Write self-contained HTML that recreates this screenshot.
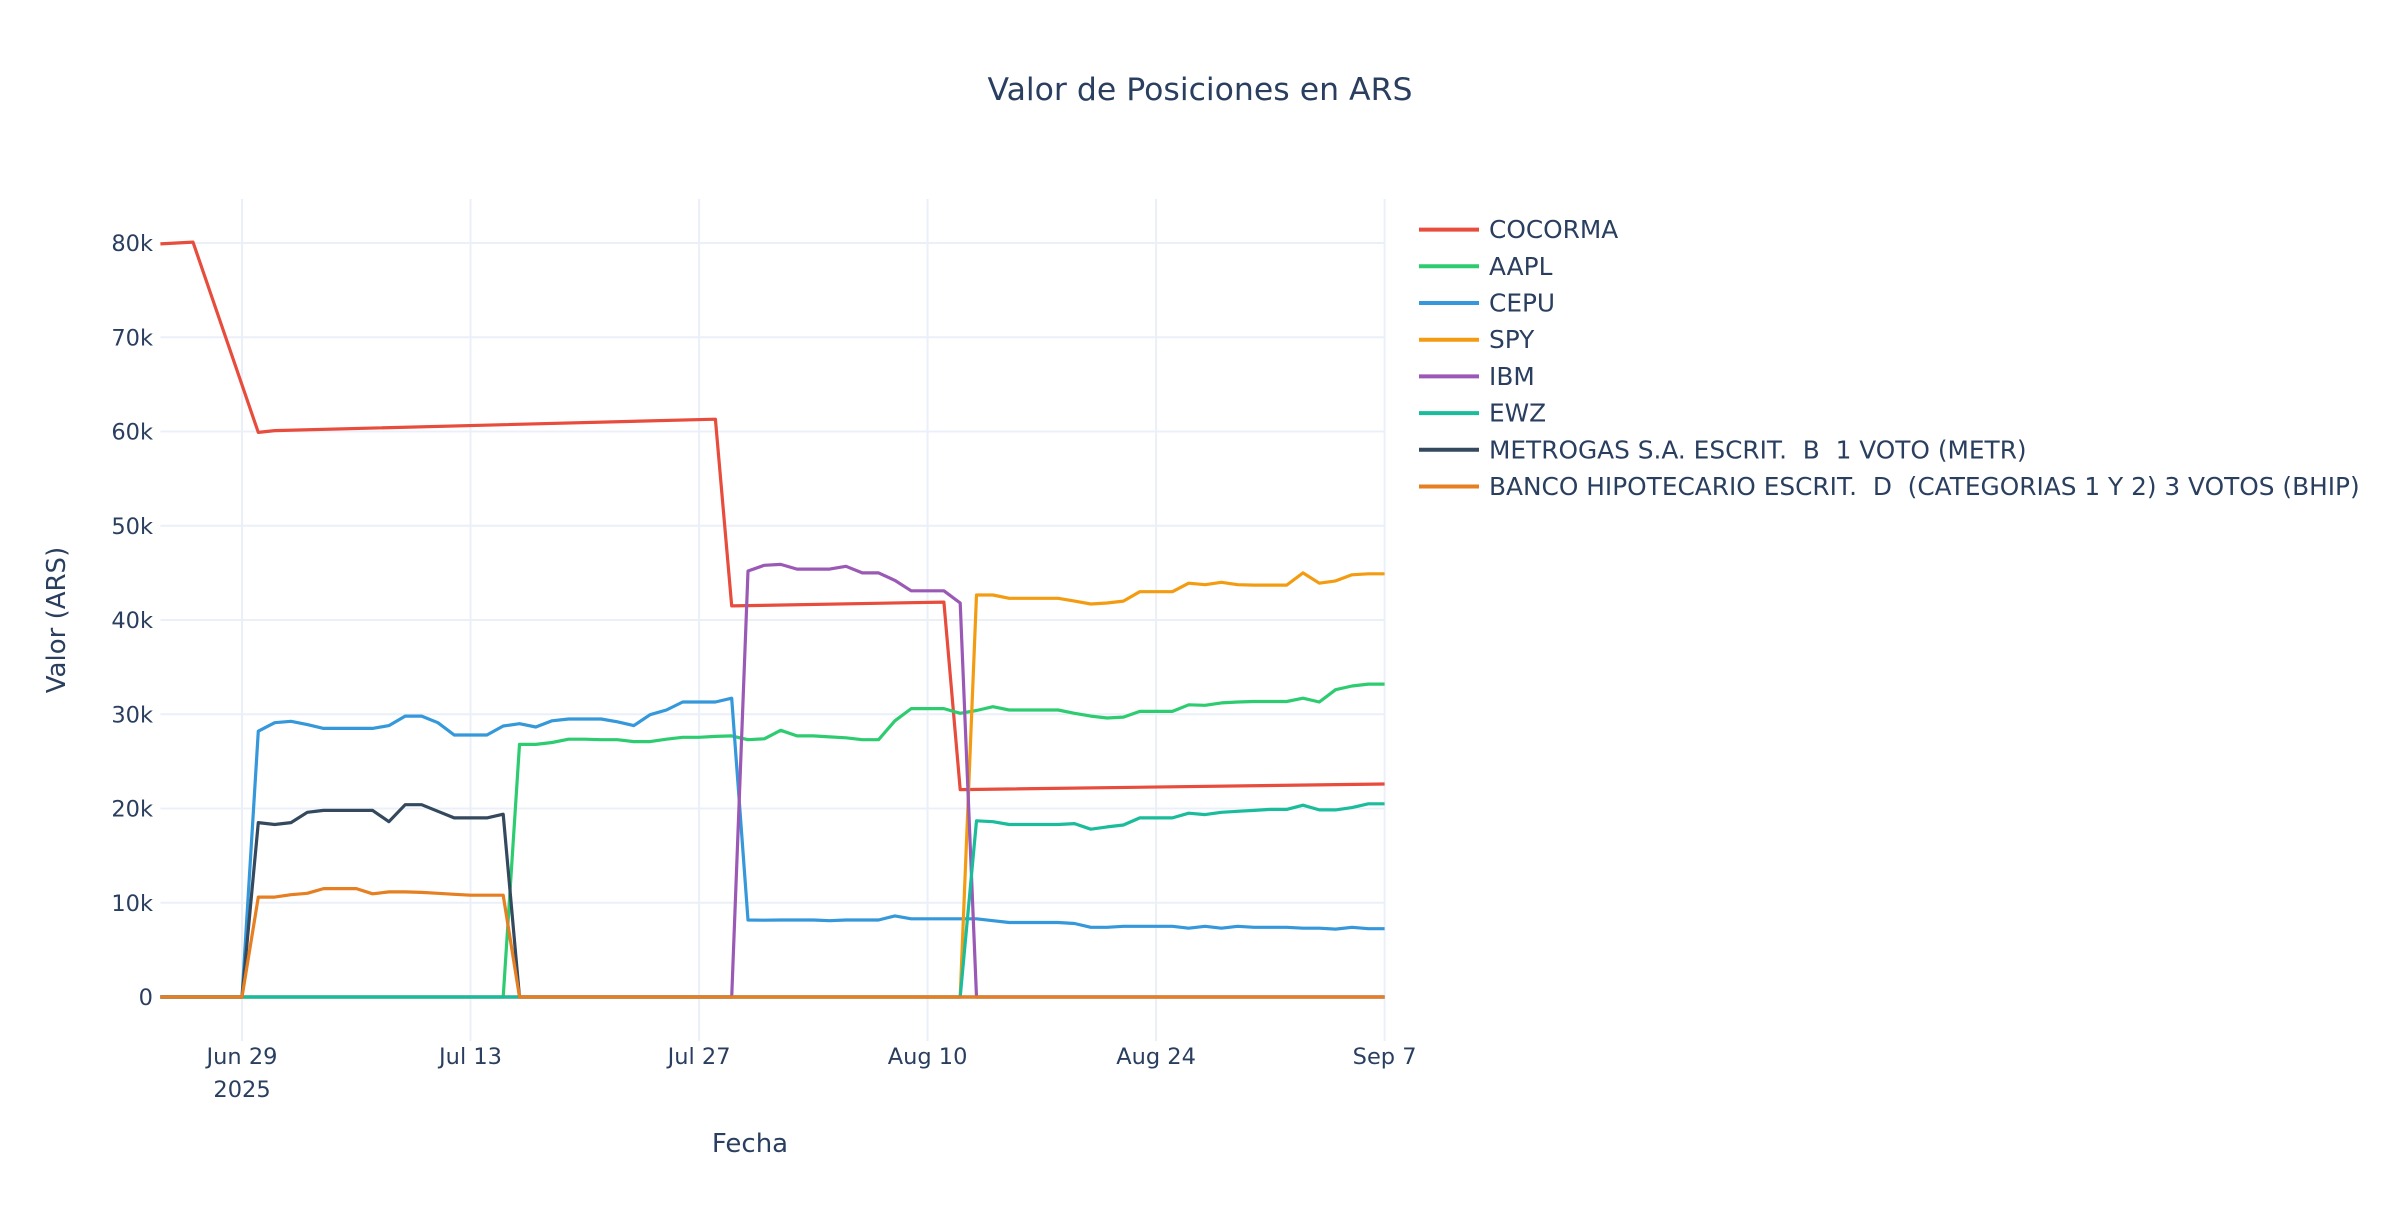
<!DOCTYPE html>
<html><head><meta charset="utf-8"><style>
body{margin:0;background:#fff;}
svg text{font-family:"DejaVu Sans","Liberation Sans",sans-serif;fill:#2a3f5f;white-space:pre;}
</style></head><body>
<svg id="chart" width="2400" height="1200" viewBox="0 0 2400 1200" xmlns="http://www.w3.org/2000/svg" xml:space="preserve">
<rect width="2400" height="1200" fill="#fff"/>
<text x="1200" y="100" font-size="31.5" text-anchor="middle">Valor de Posiciones en ARS</text>
<g id="grid"></g><g id="series"></g><g id="axes"></g><g id="legend"></g>
<text x="0" y="0" font-size="26" text-anchor="middle" transform="translate(65,620) rotate(-90)">Valor (ARS)</text>
<text x="750" y="1152" font-size="26" text-anchor="middle">Fecha</text>
</svg>
<script>
const startDate = "2025-06-24";
const numDays = 76;
const yTicks = [0,10000,20000,30000,40000,50000,60000,70000,80000];
const yTickLabels = ["0","10k","20k","30k","40k","50k","60k","70k","80k"];
const xTickDays = [5,19,33,47,61,75];
const xTickLabels = ["Jun 29","Jul 13","Jul 27","Aug 10","Aug 24","Sep 7"];
const seriesNames = ["COCORMA","AAPL","CEPU","SPY","IBM","EWZ","METROGAS S.A. ESCRIT.  B  1 VOTO (METR)","BANCO HIPOTECARIO ESCRIT.  D  (CATEGORIAS 1 Y 2) 3 VOTOS (BHIP)"];
const seriesColors = ["#e74c3c","#2ecc71","#3498db","#f39c12","#9b59b6","#1abc9c","#34495e","#e67e22"];
const cocormaDays = [0,2,6,7,34,35,48,49,75];
const cocormaValues = [79900,80100,59900,60100,61300,41500,41900,22000,22600];
const aaplValues = [0,0,0,0,0,0,0,0,0,0,0,0,0,0,0,0,0,0,0,0,0,0,
26800,26800,27000,27350,27350,27300,27300,27100,27100,27350,27550,27550,27650,27700,
27300,27400,28300,27700,27700,27600,27500,27300,27300,
29300,30600,30600,30600,30100,30400,
30800,30450,30450,30450,30450,
30100,29800,29600,29700,30300,30300,30300,
31000,30950,31200,31300,31350,31350,31350,
31700,31300,32600,33000,33200,33200];
const cepuValues = [0,0,0,0,0,0,
28200,29100,29250,28900,28500,28500,28500,28500,28800,29800,29800,29100,27800,27800,27800,28750,29000,28650,29300,29500,29500,29500,29200,28800,29950,30450,31300,31300,31300,31700,
8170,8150,8170,8170,8170,8100,8170,8170,8170,
8600,8300,8300,8300,8300,8300,8100,7900,7900,7900,7900,7800,7400,7400,7500,7500,7500,7500,7300,7500,7300,7500,7400,7400,7400,7300,7300,7200,7400,7250,7250];
const spyValues = [0,0,0,0,0,0,0,0,0,0,0,0,0,0,0,0,0,0,0,0,0,0,0,0,0,0,0,0,0,0,0,0,0,0,0,0,0,0,0,0,0,0,0,0,0,0,0,0,0,0,
42650,42650,42300,42300,42300,42300,42000,41700,41800,42000,43000,43000,43000,43900,43750,44000,43750,43700,43700,43700,45000,43900,44150,44800,44900,44900];
const ibmValues = [0,0,0,0,0,0,0,0,0,0,0,0,0,0,0,0,0,0,0,0,0,0,0,0,0,0,0,0,0,0,0,0,0,0,0,0,
45200,45800,45900,45400,45400,45400,45700,45000,45000,44200,43100,43100,43100,41800,
0,0,0,0,0,0,0,0,0,0,0,0,0,0,0,0,0,0,0,0,0,0,0,0,0,0];
const ewzValues = [0,0,0,0,0,0,0,0,0,0,0,0,0,0,0,0,0,0,0,0,0,0,0,0,0,0,0,0,0,0,0,0,0,0,0,0,0,0,0,0,0,0,0,0,0,0,0,0,0,0,
18700,18600,18300,18300,18300,18300,18400,17800,18050,18250,19000,19000,19000,19500,19350,19600,19700,19800,19900,19900,20350,19850,19850,20100,20500,20500];
const metrValues = [0,0,0,0,0,0,
18500,18300,18500,19600,19800,19800,19800,19800,18600,20400,20400,19700,19000,19000,19000,19400,
0,0,0,0,0,0,0,0,0,0,0,0,0,0,0,0,0,0,0,0,0,0,0,0,0,0,0,0,0,0,0,0,0,0,0,0,0,0,0,0,0,0,0,0,0,0,0,0,0,0,0,0,0,0];
const bhipValues = [0,0,0,0,0,0,
10600,10600,10850,11000,11500,11500,11500,10950,11150,11150,11100,11000,10900,10800,10800,10800,
0,0,0,0,0,0,0,0,0,0,0,0,0,0,0,0,0,0,0,0,0,0,0,0,0,0,0,0,0,0,0,0,0,0,0,0,0,0,0,0,0,0,0,0,0,0,0,0,0,0,0,0,0,0];

const NS = "http://www.w3.org/2000/svg";
const PL = 160.4, PR = 1384.6, PT = 199, PB = 1041;
function xScale(d){ return PL + d * (PR - PL) / (numDays - 1); }
function yScale(v){ return 997 - v / 10000 * 94.25; }
function mk(tag, attrs, parent){ const e = document.createElementNS(NS, tag); for (const k in attrs) e.setAttribute(k, attrs[k]); parent.appendChild(e); return e; }

const grid = document.getElementById("grid"), axes = document.getElementById("axes");
yTicks.forEach((v, i) => {
  const y = yScale(v);
  const gl = mk("line", {x1: PL, x2: PR, y1: y, y2: y, stroke: "#ebf0f8", "stroke-width": 2}, grid);
  
  
  const t = mk("text", {x: 153, y: y + 8, "font-size": 22.5, "text-anchor": "end"}, axes);
  t.textContent = yTickLabels[i];
  
  
});
xTickDays.forEach((d, i) => {
  const x = xScale(d);
  const gl = mk("line", {x1: x, x2: x, y1: PT, y2: PB, stroke: "#ebf0f8", "stroke-width": 2}, grid);
  
  
  const t = mk("text", {x: x, y: 1064, "font-size": 22.5, "text-anchor": "middle"}, axes);
  t.textContent = xTickLabels[i];
  
  
});
const yr = mk("text", {x: xScale(xTickDays[0]), y: 1097, "font-size": 22.5, "text-anchor": "middle"}, axes);
yr.textContent = "2025";



const allDays = [];
for (let d = 0; d < numDays; d++) allDays.push(d);
const seriesDays = [cocormaDays, allDays, allDays, allDays, allDays, allDays, allDays, allDays];
const seriesVals = [cocormaValues, aaplValues, cepuValues, spyValues, ibmValues, ewzValues, metrValues, bhipValues];
const sg = document.getElementById("series");
seriesVals.forEach((vals, s) => {
  const days = seriesDays[s];
  const pts = vals.map((v, i) => xScale(days[i]).toFixed(1) + "," + yScale(v).toFixed(1)).join(" ");
  const pl = mk("polyline", {points: pts, fill: "none", stroke: seriesColors[s], "stroke-width": 3.2, "stroke-linejoin": "round"}, sg);
  
  
});

const lg = document.getElementById("legend");
seriesNames.forEach((n, i) => {
  const y = 229.6 + i * 36.7;
  const g = mk("g", {}, lg);
  
  
  mk("line", {x1: 1419, x2: 1479, y1: y, y2: y, stroke: seriesColors[i], "stroke-width": 4}, g);
  const t = mk("text", {x: 1489, y: y + 8.5, "font-size": 24.8}, g);
  t.textContent = n;
});
</script>
</body></html>
